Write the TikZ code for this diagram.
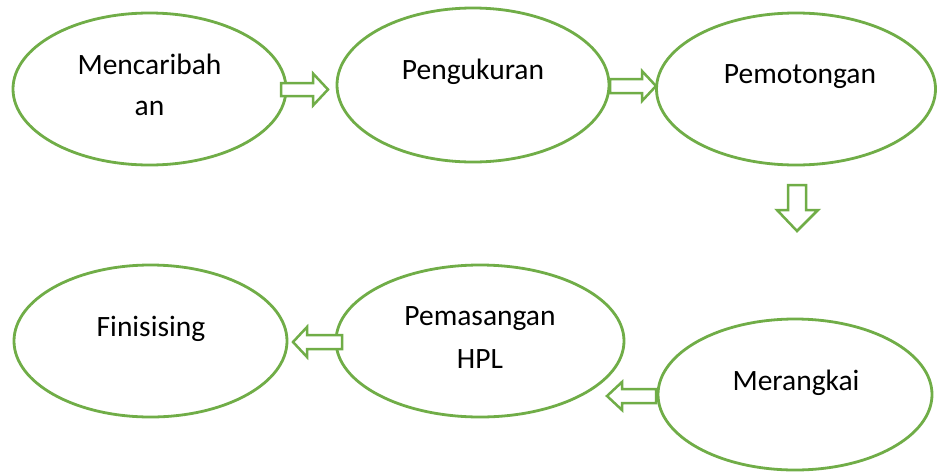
\documentclass[tikz,border=0pt]{standalone}
\usepackage{fontspec}
\setmainfont{Carlito}
\usetikzlibrary{shapes.geometric}
\definecolor{officegreen}{HTML}{70AD47}
\tikzset{
  oval/.style={ellipse, draw=officegreen, line width=2.8pt, inner sep=0pt, fill=white},
  lbl/.style={anchor=base, inner sep=0pt, font=\fontsize{29.5}{35}\selectfont, text=black},
  barrow/.style={draw=officegreen, line width=2.5pt, fill=white, line join=miter}
}
\begin{document}
\begin{tikzpicture}[x=1pt,y=-1pt]
\useasboundingbox[fill=white] (0,0) rectangle (937,472);
% ellipses
\node[oval, minimum width=273pt, minimum height=152pt] (e1) at (149.5,89) {};
\node[oval, minimum width=272pt, minimum height=154pt] (e2) at (473,85) {};
\node[oval, minimum width=279pt, minimum height=152pt] (e3) at (796,89) {};
\node[oval, minimum width=273pt, minimum height=152pt] (e4) at (150.5,341) {};
\node[oval, minimum width=288pt, minimum height=152pt] (e5) at (480,341) {};
\node[oval, minimum width=274pt, minimum height=151pt] (e6) at (795,394.5) {};
% labels
\node[lbl] (t1a) at (149.5,74) {Mencaribah};
\node[lbl] (t1b) at (149.5,115) {an};
\node[lbl] (t2) at (473,79) {Pengukuran};
\node[lbl] (t3) at (800,83) {Pemotongan};
\node[lbl] (t4) at (151,336) {Finisising};
\node[lbl] (t5a) at (480,325) {Pemasangan};
\node[lbl] (t5b) at (480,368) {HPL};
\node[lbl] (t6) at (796,390) {Merangkai};
% block arrows
\draw[barrow] (281,83) -- (313,83) -- (313,73.5) -- (328,89.5) -- (313,105.5) -- (313,96) -- (281,96) -- cycle;
\draw[barrow] (610,79) -- (642,79) -- (642,71) -- (656,86) -- (642,101) -- (642,93) -- (610,93) -- cycle;
\draw[barrow] (788,185) -- (806,185) -- (806,210) -- (818,210) -- (797,231) -- (777,210) -- (788,210) -- cycle;
\draw[barrow] (342,335) -- (307,335) -- (307,327) -- (293,342) -- (307,357) -- (307,349) -- (342,349) -- cycle;
\draw[barrow] (656,389) -- (622,389) -- (622,382) -- (607,396) -- (622,410) -- (622,403) -- (656,403) -- cycle;
\end{tikzpicture}
\end{document}
